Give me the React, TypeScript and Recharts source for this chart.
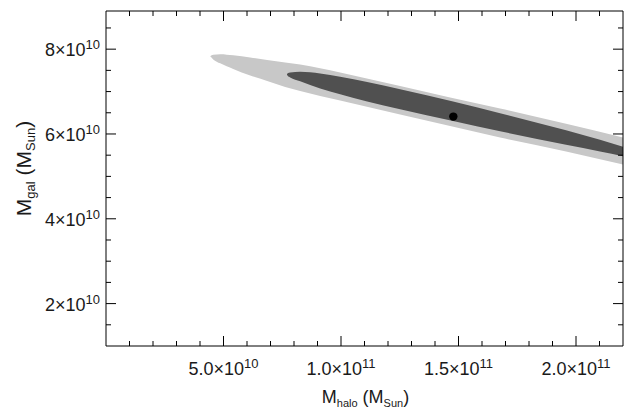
import React from "react";
import { ComposedChart, Area, Scatter, XAxis, YAxis } from "recharts";

// ---- Data ----
// Outer (light) confidence contour: x, lower and upper bounds of M_gal
const outerX = [4.434e10, 4.562e10, 4.86e10, 5.413e10, 6.136e10, 6.859e10, 7.625e10, 8.263e10, 9.964e10, 12.516e10, 14.643e10, 16.77e10, 19.577e10, 22.0e10];
const outerLow = [7.83e10, 7.759e10, 7.665e10, 7.535e10, 7.381e10, 7.251e10, 7.109e10, 7.015e10, 6.79e10, 6.46e10, 6.188e10, 5.916e10, 5.586e10, 5.279e10];
const outerHigh = [7.83e10, 7.87e10, 7.882e10, 7.854e10, 7.806e10, 7.747e10, 7.688e10, 7.641e10, 7.452e10, 7.133e10, 6.861e10, 6.601e10, 6.24e10, 5.916e10];

// Inner (dark) confidence contour
const innerX = [7.697e10, 7.731e10, 7.837e10, 8.263e10, 9.114e10, 9.964e10, 11.113e10, 12.516e10, 14.77e10, 16.77e10, 19.577e10, 21.023e10, 22.0e10];
const innerLow = [7.405e10, 7.374e10, 7.334e10, 7.243e10, 7.074e10, 6.936e10, 6.766e10, 6.585e10, 6.305e10, 6.065e10, 5.743e10, 5.589e10, 5.476e10];
const innerHigh = [7.405e10, 7.431e10, 7.452e10, 7.467e10, 7.428e10, 7.349e10, 7.226e10, 7.057e10, 6.766e10, 6.49e10, 6.085e10, 5.861e10, 5.7e10];

// Best-fit point
const bestFit = [{ x: 1.478e11, y: 6.41e10 }];

// Axes
const xDomain = [0, 2.2e11];
const yDomain = [1.0e10, 8.9e10];
const xTicks = [1e10, 2e10, 3e10, 4e10, 5e10, 6e10, 7e10, 8e10, 9e10, 10e10, 11e10, 12e10, 13e10, 14e10, 15e10, 16e10, 17e10, 18e10, 19e10, 20e10, 21e10];
const xMajorTicks = [5e10, 10e10, 15e10, 20e10];
const xMajorMantissa = ["5.0", "1.0", "1.5", "2.0"];
const xMajorExponent = ["10", "11", "11", "11"];
const yTicks = [1.5e10, 2e10, 2.5e10, 3e10, 3.5e10, 4e10, 4.5e10, 5e10, 5.5e10, 6e10, 6.5e10, 7e10, 7.5e10, 8e10, 8.5e10];
const yMajorTicks = [2e10, 4e10, 6e10, 8e10];
const yMajorMantissa = ["2", "4", "6", "8"];
const yMajorExponent = ["10", "10", "10", "10"];

// ---- Build the table the library needs ----
const allX = Array.from(new Set([...outerX, ...innerX])).sort((a, b) => a - b);
const tableData = allX.map((x) => {
  const oi = outerX.indexOf(x);
  const ii = innerX.indexOf(x);
  return {
    x,
    outer: oi >= 0 ? [outerLow[oi], outerHigh[oi]] : undefined,
    inner: ii >= 0 ? [innerLow[ii], innerHigh[ii]] : undefined,
  };
});

const FONT = "'Liberation Sans', Arial, Helvetica, sans-serif";
const TEXT = "#1a1a1a";
const MAJOR = 10;
const MINOR = 5;
const BIG = 18;
const SMALL = 13;
const SUB = 11;

const findIdx = (arr: number[], v: number) => arr.findIndex((a) => Math.abs(a - v) < 1e6);

const BottomTick = (props: any) => {
  const { x, y, payload } = props;
  const i = findIdx(xMajorTicks, payload.value);
  const major = i >= 0;
  return (
    <g>
      <line x1={x} x2={x} y1={y} y2={y - (major ? MAJOR : MINOR)} stroke="#000" strokeWidth={1} />
      {major && (
        <text x={x} y={y + 28.7} textAnchor="middle" fontFamily={FONT} fontSize={BIG} fill={TEXT}>
          {xMajorMantissa[i]}×10
          <tspan dy={-7} fontSize={SMALL}>{xMajorExponent[i]}</tspan>
        </text>
      )}
    </g>
  );
};

const TopTick = (props: any) => {
  const { x, y, payload } = props;
  const major = findIdx(xMajorTicks, payload.value) >= 0;
  return <line x1={x} x2={x} y1={y} y2={y + (major ? MAJOR : MINOR)} stroke="#000" strokeWidth={1} />;
};

const LeftTick = (props: any) => {
  const { x, y, payload } = props;
  const i = findIdx(yMajorTicks, payload.value);
  const major = i >= 0;
  return (
    <g>
      <line x1={x} x2={x + (major ? MAJOR : MINOR)} y1={y} y2={y} stroke="#000" strokeWidth={1} />
      {major && (
        <text x={x - 6} y={y + 7} textAnchor="end" fontFamily={FONT} fontSize={BIG} fill={TEXT}>
          {yMajorMantissa[i]}×10
          <tspan dy={-7} fontSize={SMALL}>{yMajorExponent[i]}</tspan>
        </text>
      )}
    </g>
  );
};

const RightTick = (props: any) => {
  const { x, y, payload } = props;
  const major = findIdx(yMajorTicks, payload.value) >= 0;
  return <line x1={x} x2={x - (major ? MAJOR : MINOR)} y1={y} y2={y} stroke="#000" strokeWidth={1} />;
};

const XTitle = () => (
  <text x={365.5} y={403} textAnchor="middle" fontFamily={FONT} fontSize={BIG} fill={TEXT}>
    M<tspan fontSize={SUB} dy={3.5}>halo</tspan>
    <tspan fontSize={BIG} dy={-3.5}> (M</tspan>
    <tspan fontSize={SUB} dy={3.5}>Sun</tspan>
    <tspan fontSize={BIG} dy={-3.5}>)</tspan>
  </text>
);

const YT_BIG = 21;
const YT_SUB = 13;
const YTitle = () => (
  <text
    x={31}
    y={168.5}
    transform="rotate(-90 31 168.5)"
    textAnchor="middle"
    fontFamily={FONT}
    fontSize={YT_BIG}
    fill={TEXT}
  >
    M<tspan fontSize={YT_SUB} dy={4}>gal</tspan>
    <tspan fontSize={YT_BIG} dy={-4}> (M</tspan>
    <tspan fontSize={YT_SUB} dy={4}>Sun</tspan>
    <tspan fontSize={YT_BIG} dy={-4}>)</tspan>
  </text>
);

export default function App() {
  return (
    <div style={{ position: "absolute", left: 0, top: 0, width: 626, height: 408, background: "#fff" }}>
      <ComposedChart width={626} height={408} data={tableData} margin={{ top: 10, right: 2, bottom: 0, left: 0 }}>
        <XAxis
          xAxisId="b"
          orientation="bottom"
          type="number"
          dataKey="x"
          domain={xDomain}
          allowDataOverflow
          ticks={xTicks}
          interval={0}
          height={62}
          tickSize={0}
          tickMargin={0}
          tickLine={false}
          axisLine={{ stroke: "#000", strokeWidth: 1 }}
          tick={<BottomTick />}
        />
        <XAxis
          xAxisId="t"
          orientation="top"
          type="number"
          dataKey="x"
          domain={xDomain}
          allowDataOverflow
          ticks={xTicks}
          interval={0}
          height={1}
          tickSize={0}
          tickMargin={0}
          tickLine={false}
          axisLine={{ stroke: "#000", strokeWidth: 1 }}
          tick={<TopTick />}
        />
        <YAxis
          yAxisId="l"
          orientation="left"
          type="number"
          domain={yDomain}
          allowDataOverflow
          ticks={yTicks}
          interval={0}
          width={106}
          tickSize={0}
          tickMargin={0}
          tickLine={false}
          axisLine={{ stroke: "#000", strokeWidth: 1 }}
          tick={<LeftTick />}
        />
        <YAxis
          yAxisId="r"
          orientation="right"
          type="number"
          domain={yDomain}
          allowDataOverflow
          ticks={yTicks}
          interval={0}
          width={1}
          tickSize={0}
          tickMargin={0}
          tickLine={false}
          axisLine={{ stroke: "#000", strokeWidth: 1 }}
          tick={<RightTick />}
        />
        <Area
          xAxisId="b"
          yAxisId="l"
          dataKey="outer"
          type="monotone"
          fill="#c8c8c8"
          fillOpacity={1}
          stroke="none"
          connectNulls
          isAnimationActive={false}
        />
        <Area
          xAxisId="b"
          yAxisId="l"
          dataKey="inner"
          type="monotone"
          fill="#505050"
          fillOpacity={1}
          stroke="none"
          connectNulls
          isAnimationActive={false}
        />
        <Scatter
          xAxisId="b"
          yAxisId="l"
          data={bestFit}
          dataKey="y"
          fill="#000"
          isAnimationActive={false}
          shape={(p: any) => <circle cx={p.cx} cy={p.cy} r={4.2} fill="#000" />}
        />
        <Scatter
          xAxisId="t"
          yAxisId="r"
          data={bestFit}
          dataKey="y"
          isAnimationActive={false}
          shape={() => <g />}
        />
        <XTitle />
        <YTitle />
      </ComposedChart>
    </div>
  );
}
